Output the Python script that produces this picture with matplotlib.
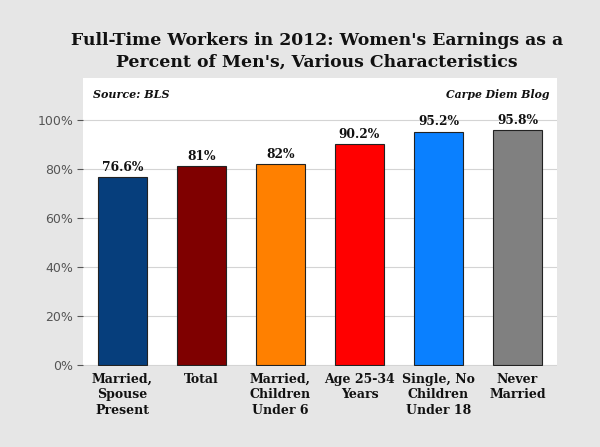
#!/usr/bin/env python3

import matplotlib.pyplot as plt
from matplotlib.ticker import FuncFormatter

categories = [
    "Married,\nSpouse\nPresent",
    "Total",
    "Married,\nChildren\nUnder 6",
    "Age 25-34\nYears",
    "Single, No\nChildren\nUnder 18",
    "Never\nMarried",
]
values = [76.6, 81, 82, 90.2, 95.2, 95.8]
value_labels = ["76.6%", "81%", "82%", "90.2%", "95.2%", "95.8%"]
colors = ["#063e7c", "#7f0000", "#ff8000", "#ff0000", "#0a80ff", "#808080"]
yticks = [0, 20, 40, 60, 80, 100]

serif = ["DejaVu Serif"]


def main():
    fig = plt.figure(figsize=(6, 4.47), dpi=100, facecolor="#e6e6e6")
    ax = fig.add_axes([0.1383, 0.1812, 0.79, 0.6443])
    ax.set_facecolor("white")

    x = list(range(len(values)))
    ax.bar(x, values, width=0.62, color=colors, edgecolor="#222222", linewidth=0.8, zorder=3)
    for xi, v, lab in zip(x, values, value_labels):
        ax.text(xi, v + 1.3, lab, ha="center", va="bottom", fontsize=8.8,
                fontweight="bold", family=serif, color="#111111", zorder=4)

    ax.set_xlim(-0.5, 5.5)
    ax.set_ylim(-0.4, 117.1)
    ax.set_yticks(yticks)
    ax.yaxis.set_major_formatter(FuncFormatter(lambda v, _: f"{v:.0f}%"))
    ax.tick_params(axis="y", labelsize=9, colors="#555555", length=4, width=0.8, pad=3)
    ax.tick_params(axis="x", length=0, pad=5)
    ax.set_xticks(x)
    ax.set_xticklabels(categories, fontsize=9, fontweight="bold", family=serif,
                       color="#111111", linespacing=1.25)
    ax.grid(axis="y", color="#d4d4d4", linewidth=0.8, zorder=0)
    for spine in ax.spines.values():
        spine.set_visible(False)

    ax.text(0.021, 0.962, "Source: BLS", transform=ax.transAxes, ha="left", va="top",
            fontsize=8, fontweight="bold", style="italic", family=serif, color="#111111")
    ax.text(0.985, 0.962, "Carpe Diem Blog", transform=ax.transAxes, ha="right", va="top",
            fontsize=7.8, fontweight="bold", style="italic", family=serif, color="#111111")

    fig.text(0.528, 0.886, "Full-Time Workers in 2012: Women's Earnings as a\nPercent of Men's, Various Characteristics",
             ha="center", va="center", fontsize=12.4, fontweight="bold", family=serif,
             color="#111111", linespacing=1.35)

    fig.savefig("out.png", dpi=100, facecolor=fig.get_facecolor())


if __name__ == "__main__":
    main()
